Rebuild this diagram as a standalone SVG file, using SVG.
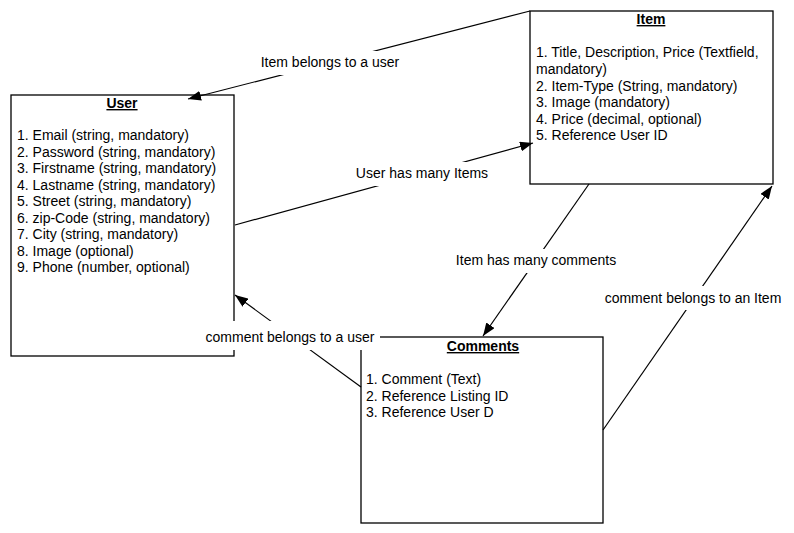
<svg xmlns="http://www.w3.org/2000/svg" width="794" height="533" viewBox="0 0 794 533">
<style>
.box{fill:#fff;stroke:#000;stroke-width:1.3}
text{font-family:"Liberation Sans",Arial,sans-serif;font-size:14px;fill:#000}
.t{font-weight:bold;text-decoration:underline;text-anchor:middle}
.c{stroke:#000;stroke-width:1.2;fill:none}
.lb{fill:#fff}
.lt{text-anchor:middle}
</style>
<defs>
<marker id="ah" markerUnits="userSpaceOnUse" markerWidth="14" markerHeight="10" refX="13" refY="5" orient="auto">
<path d="M0,0 L13,5 L0,10 Z" fill="#000"/>
</marker>
</defs>
<g id="user">
<rect class="box" x="11" y="95" width="223" height="261"/>
<text class="t" x="122" y="108">User</text>
<text x="17" y="140">1. Email (string, mandatory)</text>
<text x="17" y="157">2. Password (string, mandatory)</text>
<text x="17" y="173">3. Firstname (string, mandatory)</text>
<text x="17" y="190">4. Lastname (string, mandatory)</text>
<text x="17" y="206">5. Street (string, mandatory)</text>
<text x="17" y="223">6. zip-Code (string, mandatory)</text>
<text x="17" y="239">7. City (string, mandatory)</text>
<text x="17" y="256">8. Image (optional)</text>
<text x="17" y="272">9. Phone (number, optional)</text>
</g>
<g id="item">
<rect class="box" x="530" y="11" width="243" height="173"/>
<text class="t" x="651" y="24">Item</text>
<text x="536" y="57">1. Title, Description, Price (Textfield,</text>
<text x="536" y="74">mandatory)</text>
<text x="536" y="91">2. Item-Type (String, mandatory)</text>
<text x="536" y="107">3. Image (mandatory)</text>
<text x="536" y="124">4. Price (decimal, optional)</text>
<text x="536" y="140">5. Reference User ID</text>
</g>
<g id="comments">
<rect class="box" x="361" y="337" width="242" height="186"/>
<text class="t" x="483" y="351">Comments</text>
<text x="366" y="384">1. Comment (Text)</text>
<text x="366" y="401">2. Reference Listing ID</text>
<text x="366" y="417">3. Reference User D</text>
</g>
<g id="connectors">
<line class="c" x1="530" y1="11" x2="188" y2="99" marker-end="url(#ah)"/>
<line class="c" x1="235" y1="225" x2="533" y2="143" marker-end="url(#ah)"/>
<line class="c" x1="589" y1="184" x2="483" y2="336" marker-end="url(#ah)"/>
<line class="c" x1="603" y1="430" x2="772" y2="186" marker-end="url(#ah)"/>
<line class="c" x1="361" y1="387" x2="235" y2="295" marker-end="url(#ah)"/>
<g id="labels">
<rect class="lb" x="256" y="51" width="150" height="24"/>
<text class="lt" x="330" y="67">Item belongs to a user</text>
<rect class="lb" x="352" y="162" width="142" height="24"/>
<text class="lt" x="422" y="178">User has many Items</text>
<rect class="lb" x="452" y="249" width="168" height="24"/>
<text class="lt" x="536" y="265">Item has many comments</text>
<rect class="lb" x="600" y="286" width="186" height="24"/>
<text class="lt" x="693" y="303">comment belongs to an Item</text>
<rect class="lb" x="200" y="321" width="180" height="29"/>
<text class="lt" x="290" y="342">comment belongs to a user</text>
</g>
</g>
</svg>
